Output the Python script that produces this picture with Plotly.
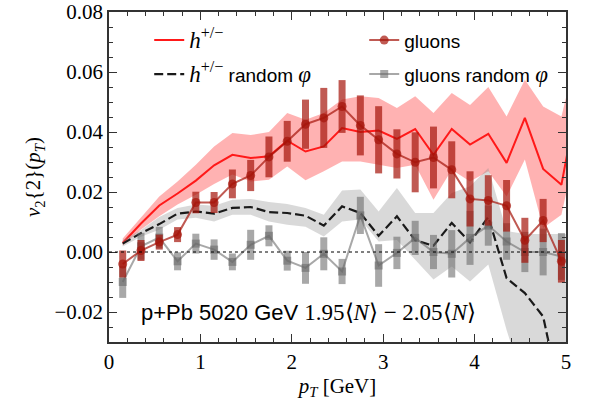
import plotly.graph_objects as go

# ---------------- data ----------------
pt = [0.15, 0.35, 0.55, 0.75, 0.95, 1.15, 1.35, 1.55, 1.75, 1.95, 2.15, 2.35, 2.55,
      2.75, 2.95, 3.15, 3.35, 3.55, 3.75, 3.95, 4.15, 4.35, 4.55, 4.75, 4.95]
pt_band = pt + [5.15]

h_mid = [0.0030, 0.0095, 0.0155, 0.0195, 0.0238, 0.0289, 0.0324, 0.0313, 0.0319, 0.0371,
         0.0335, 0.0352, 0.0413, 0.0400, 0.0405, 0.0377, 0.0410, 0.0324, 0.0410, 0.0358,
         0.0394, 0.0297, 0.0447, 0.0277, 0.0224, 0.0550]
h_hi = [0.0045, 0.0115, 0.0185, 0.0235, 0.0291, 0.0352, 0.0397, 0.0390, 0.0400, 0.0463,
        0.0441, 0.0463, 0.0508, 0.0519, 0.0513, 0.0480, 0.0519, 0.0463, 0.0530, 0.0490,
        0.0550, 0.0452, 0.0574, 0.0485, 0.0452, 0.0700]
h_lo = [0.0022, 0.0075, 0.0119, 0.0158, 0.0191, 0.0227, 0.0258, 0.0235, 0.0241, 0.0285,
        0.0239, 0.0269, 0.0302, 0.0302, 0.0291, 0.0280, 0.0291, 0.0174, 0.0274, 0.0235,
        0.0269, 0.0185, 0.0308, 0.0080, 0.0124, 0.0400]

hr_mid = [0.0028, 0.0063, 0.0093, 0.0128, 0.0135, 0.0128, 0.0147, 0.0150, 0.0133, 0.0130,
          0.0121, 0.0088, 0.0152, 0.0130, 0.0054, 0.0119, 0.0039, 0.0021, 0.0097, 0.0032,
          0.0117, -0.0087, -0.0137, -0.0215, -0.0500, -0.0800]
hr_hi = [0.0040, 0.0073, 0.0117, 0.0147, 0.0158, 0.0154, 0.0174, 0.0177, 0.0167, 0.0160,
         0.0147, 0.0124, 0.0205, 0.0208, 0.0135, 0.0213, 0.0130, 0.0130, 0.0197, 0.0219,
         0.0280, 0.0070, 0.0060, 0.0060, 0.0060, 0.0060]
hr_lo = [0.0018, 0.0051, 0.0074, 0.0108, 0.0114, 0.0102, 0.0124, 0.0124, 0.0102, 0.0091,
         0.0084, 0.0052, 0.0102, 0.0108, 0.0035, 0.0040, -0.0026, -0.0092, -0.0048, -0.0098,
         -0.0042, -0.0260, -0.0450, -0.0600, -0.0700, -0.0800]

gl = [-0.0040, 0.0005, 0.0033, 0.0058, 0.0165, 0.0165, 0.0227, 0.0255, 0.0317, 0.0369,
      0.0426, 0.0447, 0.0485, 0.0422, 0.0374, 0.0327, 0.0299, 0.0315, 0.0274, 0.0177,
      0.0172, 0.0154, 0.0039, 0.0105, -0.0031]
gl_err = [0.0045, 0.0035, 0.0025, 0.0025, 0.0036, 0.0035, 0.0048, 0.0052, 0.0068, 0.0068,
          0.0082, 0.0100, 0.0088, 0.0100, 0.0112, 0.0082, 0.0100, 0.0103, 0.0095, 0.0092,
          0.0084, 0.0086, 0.0075, 0.0072, 0.0071]

gr = [-0.0100, 0.0019, 0.0048, -0.0031, 0.0028, 0.0008, -0.0033, 0.0024, 0.0054, -0.0029,
      -0.0053, -0.0006, -0.0065, 0.0122, -0.0045, -0.0003, 0.0047, 0.0000, -0.0006, 0.0047,
      0.0088, 0.0035, 0.0000, 0.0000, -0.0015]
gr_err = [0.0053, 0.0045, 0.0036, 0.0030, 0.0033, 0.0034, 0.0028, 0.0050, 0.0035, 0.0033,
          0.0053, 0.0055, 0.0042, 0.0062, 0.0071, 0.0054, 0.0057, 0.0057, 0.0079, 0.0090,
          0.0067, 0.0061, 0.0067, 0.0078, 0.0078]

x_ticks = [0, 1, 2, 3, 4, 5]
y_ticks = [-0.02, 0.00, 0.02, 0.04, 0.06, 0.08]

# ---------------- styles ----------------
SERIF = "Liberation Serif"
SANS = "Liberation Sans"
RED = "rgb(255,25,25)"
RED_BAND = "rgba(255,0,0,0.30)"
GRAY_BAND = "rgba(140,140,140,0.33)"
GLU = "rgba(165,20,10,0.70)"
GLU_R = "rgba(105,105,105,0.58)"

def m(s, size=None):
    sz = f";font-size:{size}px" if size else ""
    return f'<span style="font-family:{SERIF}{sz}">{s}</span>'

H = m("<i>h</i><sup>+/−</sup>", 23)
PHI = m("<i>φ</i>", 23)

fig = go.Figure()

# red band
fig.add_trace(go.Scatter(x=pt_band, y=h_lo, mode="lines", line=dict(width=0),
                         showlegend=False, hoverinfo="skip"))
fig.add_trace(go.Scatter(x=pt_band, y=h_hi, mode="lines", line=dict(width=0),
                         fill="tonexty", fillcolor=RED_BAND, showlegend=False, hoverinfo="skip"))
fig.add_trace(go.Scatter(x=pt_band, y=h_mid, mode="lines", line=dict(color=RED, width=2),
                         name=H, legend="legend", legendrank=1))
# gray band
fig.add_trace(go.Scatter(x=pt_band, y=hr_lo, mode="lines", line=dict(width=0),
                         showlegend=False, hoverinfo="skip"))
fig.add_trace(go.Scatter(x=pt_band, y=hr_hi, mode="lines", line=dict(width=0),
                         fill="tonexty", fillcolor=GRAY_BAND, showlegend=False, hoverinfo="skip"))
fig.add_trace(go.Scatter(x=pt_band, y=hr_mid, mode="lines",
                         line=dict(color="#1a1a1a", width=2.2, dash="9px,4px"),
                         name=H + " random " + PHI, legend="legend2", legendrank=3))
# gluons random phi
fig.add_trace(go.Scatter(x=pt, y=gr, mode="lines+markers",
                         line=dict(color=GLU_R, width=2),
                         marker=dict(symbol="square", size=8, color=GLU_R),
                         error_y=dict(type="data", array=gr_err, thickness=7, width=0, color=GLU_R),
                         name="gluons random " + PHI, legend="legend2", legendrank=4))
# gluons
fig.add_trace(go.Scatter(x=pt, y=gl, mode="lines+markers",
                         line=dict(color=GLU, width=2),
                         marker=dict(symbol="circle", size=9, color=GLU),
                         error_y=dict(type="data", array=gl_err, thickness=7, width=0, color=GLU),
                         name="gluons", legend="legend", legendrank=2))

# zero reference line
fig.add_shape(type="line", xref="x", yref="y", x0=0, x1=5, y0=0, y1=0,
              line=dict(color="black", width=1, dash="dot"), layer="above")

fig.add_annotation(xref="x", yref="y", x=0.33, y=-0.0203, xanchor="left", yanchor="middle",
                   showarrow=False,
                   text="p+Pb 5020 GeV " + m("1.95⟨<i>N</i>⟩ − 2.05⟨<i>N</i>⟩", 23),
                   font=dict(family=SANS, size=22, color="black"))

axis_common = dict(showline=True, linecolor="#333", linewidth=1.5, mirror="ticks",
                   ticks="inside", ticklen=8, tickwidth=1.2, tickcolor="#333",
                   showgrid=False, zeroline=False,
                   tickfont=dict(family=SERIF, size=21, color="black"))

fig.update_xaxes(range=[0, 5], tickvals=x_ticks, ticktext=[str(v) for v in x_ticks],
                 minor=dict(dtick=0.2, tick0=0, ticks="inside", ticklen=4, tickcolor="#333"),
                 title=dict(text="<i>p</i><sub><i>T</i></sub> [GeV]",
                            font=dict(family=SERIF, size=21, color="black"), standoff=4),
                 **axis_common)
fig.update_yaxes(range=[-0.03, 0.08], tickvals=y_ticks, tickformat=".2f",
                 minor=dict(dtick=0.005, tick0=0, ticks="inside", ticklen=4, tickcolor="#333"),
                 title=dict(text="<i>v</i><sub>2</sub>{2}(<i>p</i><sub><i>T</i></sub>)",
                            font=dict(family=SERIF, size=21, color="black"), standoff=8),
                 **axis_common)

leg_common = dict(orientation="h", xanchor="left", yanchor="top", bgcolor="rgba(0,0,0,0)",
                  font=dict(family=SANS, size=19, color="black"),
                  entrywidth=170, entrywidthmode="pixels", traceorder="normal")

fig.update_layout(
    width=589, height=403,
    margin=dict(l=109, r=23, t=12, b=61, autoexpand=False),
    paper_bgcolor="white", plot_bgcolor="white",
    legend=dict(x=0.088, y=0.972, **leg_common),
    legend2=dict(x=0.088, y=0.869, **leg_common),
)

fig.write_html("out.html")
